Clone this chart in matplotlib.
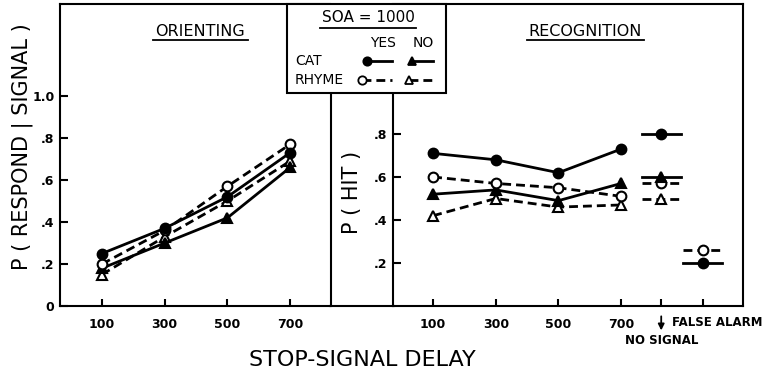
import matplotlib
matplotlib.use("Agg")
import matplotlib.pyplot as plt
from matplotlib.lines import Line2D
from matplotlib.patches import Rectangle

# stop-signal delays (ms)
delays = [100, 300, 500, 700]

# orienting task: P(respond | signal)
orient_cat_yes = [0.25, 0.37, 0.52, 0.73]
orient_rhyme_yes = [0.20, 0.36, 0.57, 0.77]
orient_cat_no = [0.18, 0.30, 0.42, 0.66]
orient_rhyme_no = [0.15, 0.33, 0.50, 0.69]

# recognition task: P(hit)
recog_cat_yes = [0.71, 0.68, 0.62, 0.73]
recog_rhyme_yes = [0.60, 0.57, 0.55, 0.51]
recog_cat_no = [0.52, 0.54, 0.49, 0.57]
recog_rhyme_no = [0.42, 0.50, 0.46, 0.47]

# no-signal hits and false alarms
no_signal_x = 828
false_alarm_x = 961
nosig_cat_yes, nosig_rhyme_yes, nosig_cat_no, nosig_rhyme_no = 0.80, 0.57, 0.60, 0.50
fa_cat, fa_rhyme = 0.20, 0.26

left_yticks = [0, 0.2, 0.4, 0.6, 0.8, 1.0]
left_ylabels = ['0', '.2', '.4', '.6', '.8', '1.0']
right_yticks = [0.2, 0.4, 0.6, 0.8]
right_ylabels = ['.2', '.4', '.6', '.8']

W, H = 770, 377


def fx(px):
    return px / W


def fy(py):
    return 1 - py / H


lw = 2.0
styles = {
    'cat_yes': dict(color='k', ls='-', marker='o', mfc='k', mec='k'),
    'rhyme_yes': dict(color='k', ls=(0, (3.2, 1.8)), marker='o', mfc='w', mec='k'),
    'cat_no': dict(color='k', ls='-', marker='^', mfc='k', mec='k'),
    'rhyme_no': dict(color='k', ls=(0, (3.2, 1.8)), marker='^', mfc='w', mec='k'),
}

fig = plt.figure(figsize=(7.7, 3.77), dpi=100)

axL = fig.add_axes([fx(60), fy(306), 270 / W, 302 / H])
axR = fig.add_axes([fx(393), fy(306), 350 / W, 302 / H])

tickfont = dict(fontsize=9, fontweight='bold')

for ax, data in [(axL, [orient_rhyme_no, orient_cat_no, orient_rhyme_yes, orient_cat_yes]),
                 (axR, [recog_rhyme_no, recog_cat_no, recog_rhyme_yes, recog_cat_yes])]:
    for key, y in zip(['rhyme_no', 'cat_no', 'rhyme_yes', 'cat_yes'], data):
        ax.plot(delays, y, lw=lw, ms=7, mew=1.5, **styles[key])
    for s in ax.spines.values():
        s.set_linewidth(1.5)
    ax.tick_params(direction='in', length=5, width=1.5, pad=9, axis='x')
    ax.tick_params(direction='in', length=6, width=1.5, pad=4, axis='y')

# left panel
axL.set_xlim(-34, 827)
axL.set_ylim(0, 302 / 210)
axL.spines['right'].set_visible(False)
axL.set_xticks(delays)
axL.set_xticklabels([str(d) for d in delays], **tickfont)
axL.set_yticks(left_yticks)
axL.set_yticklabels(left_ylabels, **tickfont)

# right panel
axR.set_xlim(-28, 1089)
axR.set_ylim(0, 302 / 215)
axR.spines['left'].set_bounds(0, 213 / 215)
axR.set_xticks(delays + [no_signal_x, false_alarm_x])
axR.set_xticklabels([str(d) for d in delays] + ['', ''], **tickfont)
axR.set_yticks(right_yticks)
axR.set_yticklabels(right_ylabels, **tickfont)

# no-signal and false-alarm points as short bars
half = 62
for key, x, y in [('cat_yes', no_signal_x, nosig_cat_yes),
                  ('rhyme_yes', no_signal_x, nosig_rhyme_yes),
                  ('cat_no', no_signal_x, nosig_cat_no),
                  ('rhyme_no', no_signal_x, nosig_rhyme_no),
                  ('cat_yes', false_alarm_x, fa_cat),
                  ('rhyme_yes', false_alarm_x, fa_rhyme)]:
    st = dict(styles[key])
    mk = st.pop('marker')
    mfc, mec = st.pop('mfc'), st.pop('mec')
    axR.plot([x - half, x + half], [y, y], lw=lw, **st)
    axR.plot([x], [y], marker=mk, ms=7, mew=1.5, mfc=mfc, mec=mec, ls='none', color='k')

xt = axR.get_xaxis_transform()
axR.annotate('', xy=(no_signal_x, -0.09), xytext=(no_signal_x, -0.025), xycoords=xt,
             textcoords=xt, annotation_clip=False,
             arrowprops=dict(arrowstyle='-|>', color='k', lw=1.3, mutation_scale=9))
axR.text(no_signal_x + 36, -0.055, 'FALSE ALARM', transform=xt, ha='left', va='center',
         fontsize=8.5, fontweight='bold')
axR.text(no_signal_x, -0.115, 'NO SIGNAL', transform=xt, ha='center', va='center',
         fontsize=8.5, fontweight='bold')

# frame pieces between the panels
fig.add_artist(Line2D([fx(331), fx(331)], [fy(93), fy(306)], color='k', lw=1.5))
fig.add_artist(Line2D([fx(330), fx(394)], [fy(306), fy(306)], color='k', lw=1.5))

# key box
fig.add_artist(Rectangle((fx(287), fy(93)), 159 / W, 89 / H, transform=fig.transFigure,
                         facecolor='w', edgecolor='k', lw=1.5, zorder=5))
fig.text(fx(368), fy(18), 'SOA = 1000', ha='center', va='center', fontsize=11,
         fontweight='medium', zorder=6)
fig.add_artist(Line2D([fx(320), fx(416)], [fy(28), fy(28)], color='k', lw=1.3, zorder=6))
fig.text(fx(383), fy(43), 'YES', ha='center', va='center', fontsize=10, zorder=6)
fig.text(fx(423), fy(43), 'NO', ha='center', va='center', fontsize=10, zorder=6)
fig.text(fx(295), fy(61), 'CAT', ha='left', va='center', fontsize=10, zorder=6)
fig.text(fx(295), fy(80), 'RHYME', ha='left', va='center', fontsize=10, zorder=6)
for key, x0, x1, y in [('cat_yes', 367, 392, 61), ('cat_no', 412, 433, 61),
                       ('rhyme_yes', 362, 392, 80), ('rhyme_no', 409, 433, 80)]:
    st = dict(styles[key])
    mk = st.pop('marker')
    mfc, mec = st.pop('mfc'), st.pop('mec')
    fig.add_artist(Line2D([fx(x0), fx(x1)], [fy(y), fy(y)], lw=lw, zorder=6, **st))
    fig.add_artist(Line2D([fx(x0)], [fy(y)], marker=mk, ms=6, mew=1.3, mfc=mfc, mec=mec,
                          ls='none', zorder=7))

# panel titles
fig.text(fx(200), fy(31), 'ORIENTING', ha='center', va='center', fontsize=11.5,
         fontweight='medium')
fig.add_artist(Line2D([fx(153), fx(248)], [fy(40), fy(40)], color='k', lw=1.3))
fig.text(fx(585), fy(31), 'RECOGNITION', ha='center', va='center', fontsize=11.5,
         fontweight='medium')
fig.add_artist(Line2D([fx(527), fx(644)], [fy(40), fy(40)], color='k', lw=1.3))

# axis labels
fig.text(fx(22), fy(147), 'P ( RESPOND | SIGNAL )', rotation=90, ha='center', va='center',
         fontsize=15)
fig.text(fx(352), fy(192), 'P ( HIT )', rotation=90, ha='center', va='center', fontsize=15)
fig.text(fx(362), fy(360), 'STOP-SIGNAL DELAY', ha='center', va='center', fontsize=16)

fig.savefig('out.png', dpi=100)
